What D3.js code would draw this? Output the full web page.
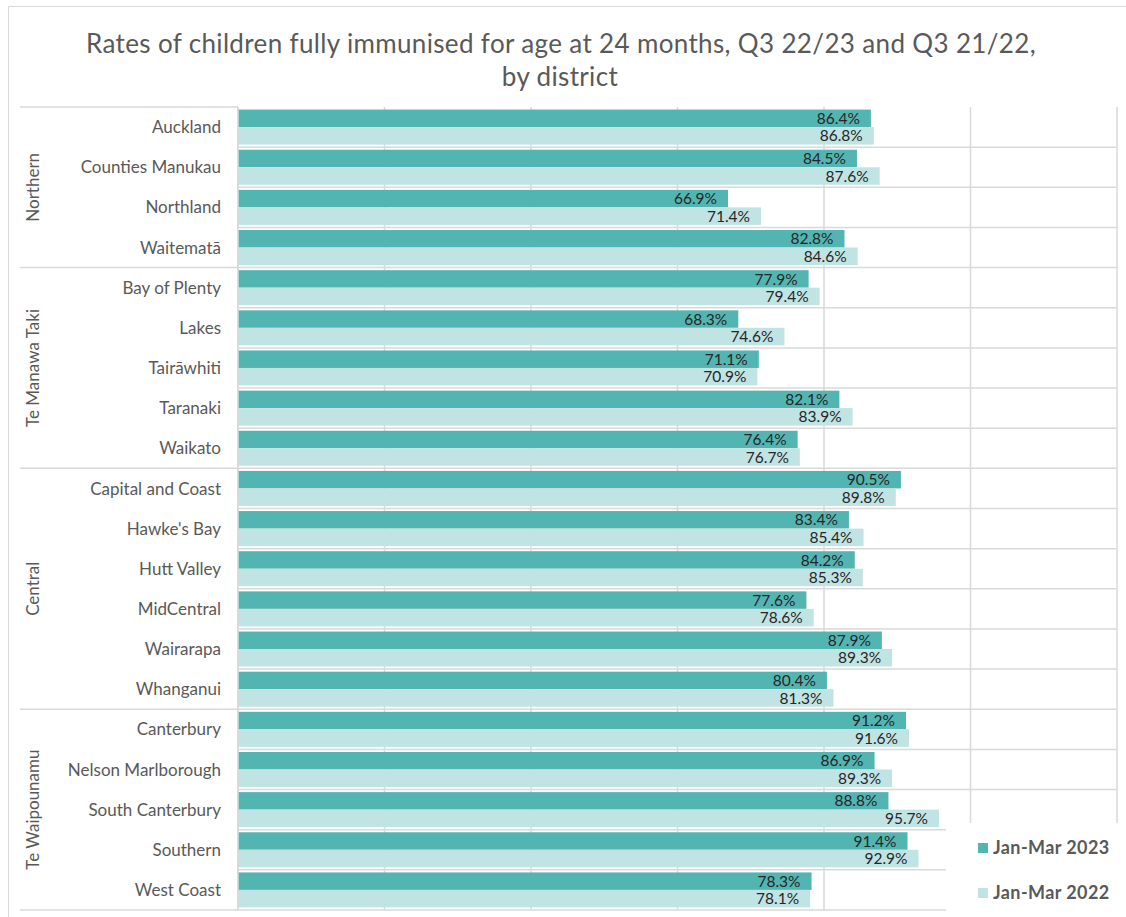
<!DOCTYPE html>
<meta charset="utf-8">
<style>
body { margin: 0; background: #fff; }
text { font-family: Lato, "Open Sans", sans-serif; }
.title { font-size: 26px; fill: #595959; letter-spacing: 0.35px; }
.cat text { font-size: 17px; fill: #595959; }
.grp text { font-size: 17px; fill: #595959; }
.val { font-size: 15.5px; fill: #262626; }
.legend text { font-size: 18px; font-weight: bold; fill: #595959; letter-spacing: 0.4px; }
</style>
<script src="https://d3js.org/d3.v7.min.js"></script>
<svg width="1126" height="917"></svg>
<script>

var districts = ["Auckland", "Counties Manukau", "Northland", "Waitematā",
  "Bay of Plenty", "Lakes", "Tairāwhiti", "Taranaki", "Waikato",
  "Capital and Coast", "Hawke's Bay", "Hutt Valley", "MidCentral", "Wairarapa", "Whanganui",
  "Canterbury", "Nelson Marlborough", "South Canterbury", "Southern", "West Coast"];
var rate2023 = [86.4, 84.5, 66.9, 82.8, 77.9, 68.3, 71.1, 82.1, 76.4, 90.5, 83.4, 84.2, 77.6, 87.9, 80.4, 91.2, 86.9, 88.8, 91.4, 78.3];
var rate2022 = [86.8, 87.6, 71.4, 84.6, 79.4, 74.6, 70.9, 83.9, 76.7, 89.8, 85.4, 85.3, 78.6, 89.3, 81.3, 91.6, 89.3, 95.7, 92.9, 78.1];
var groups = ["Northern", "Te Manawa Taki", "Central", "Te Waipounamu"];
var groupSizes = [4, 5, 6, 5];
var seriesNames = ["Jan-Mar 2023", "Jan-Mar 2022"];
var colors = ["#53b5b2", "#c0e4e3"];
var xTicks = [0, 20, 40, 60, 80, 100, 120];

var svg = d3.select("svg");
var plotLeft = 238, plotRight = 1117, plotTop = 107, plotBottom = 910;

// frame
svg.append("path").attr("d", "M8.5,917V6.5H1126").attr("fill", "none").attr("stroke", "#d9d9d9");

svg.append("text").attr("class", "title").attr("text-anchor", "middle")
  .attr("x", 561).attr("y", 53).text("Rates of children fully immunised  for age at 24 months, Q3 22/23 and Q3 21/22,");
svg.append("text").attr("class", "title").attr("text-anchor", "middle")
  .attr("x", 560).attr("y", 86).text("by district");

var x = d3.scaleLinear().domain([0, 120]).range([plotLeft, plotRight]);
var y = d3.scaleBand().domain(districts).range([plotTop, plotBottom]);
var inner = d3.scaleBand().domain([0, 1]).range([0, y.bandwidth()]).paddingOuter(0.147);

// vertical gridlines
svg.append("g").selectAll("line").data(xTicks).join("line")
  .attr("x1", d => x(d)).attr("x2", d => x(d))
  .attr("y1", plotTop).attr("y2", plotBottom)
  .attr("stroke", "#d9d9d9").attr("stroke-width", 1.5);

// row separators
svg.append("g").selectAll("line").data(districts).join("line")
  .attr("x1", plotLeft).attr("x2", plotRight)
  .attr("y1", d => y(d) + y.bandwidth()).attr("y2", d => y(d) + y.bandwidth())
  .attr("stroke", "#d9d9d9").attr("stroke-width", 1.5);

var series = [rate2023, rate2022];
series.forEach(function(vals, s) {
  svg.append("g").selectAll("rect").data(vals).join("rect")
    .attr("x", x(0))
    .attr("y", (d, i) => y(districts[i]) + inner(s))
    .attr("width", d => x(d) - x(0))
    .attr("height", inner.bandwidth())
    .attr("fill", colors[s]);
  svg.append("g").selectAll("text").data(vals).join("text")
    .attr("class", "val")
    .attr("text-anchor", "end")
    .attr("x", d => x(d) - 11)
    .attr("y", (d, i) => y(districts[i]) + inner(s) + inner.bandwidth() / 2)
    .attr("dy", "0.36em")
    .text(d => d.toFixed(1) + "%");
});

// category labels
var cat = svg.append("g").attr("class", "cat");
cat.selectAll("text").data(districts).join("text")
  .attr("text-anchor", "end")
  .attr("x", plotLeft - 17)
  .attr("y", d => y(d) + y.bandwidth() / 2)
  .attr("dy", "0.36em")
  .text(d => d);

// group labels and separators
var starts = [0];
groupSizes.forEach(function(n, i) { starts.push(starts[i] + n); });
var edge = i => i < districts.length ? y(districts[i]) : plotBottom;
var grp = svg.append("g").attr("class", "grp");
grp.selectAll("line").data(starts).join("line")
  .attr("x1", 20).attr("x2", plotLeft)
  .attr("y1", d => edge(d)).attr("y2", d => edge(d))
  .attr("stroke", "#d9d9d9").attr("stroke-width", 1.5);
grp.selectAll("text").data(groups).join("text")
  .attr("text-anchor", "middle")
  .attr("transform", (d, i) => "translate(39," + (edge(starts[i]) + edge(starts[i + 1])) / 2 + ") rotate(-90)")
  .text(d => d);
svg.append("line").attr("x1", plotLeft).attr("x2", plotLeft).attr("y1", plotTop).attr("y2", plotBottom)
  .attr("stroke", "#d9d9d9").attr("stroke-width", 1.5);

// legend
var lg = svg.append("g").attr("class", "legend");
lg.append("rect").attr("x", 946).attr("y", 823).attr("width", 180).attr("height", 94).attr("fill", "#fff");
seriesNames.forEach(function(n, i) {
  lg.append("rect").attr("x", 978).attr("y", 843 + i * 45).attr("width", 10).attr("height", 10).attr("fill", colors[i]);
  lg.append("text").attr("x", 993).attr("y", 848 + i * 45).attr("dy", "0.36em").text(n);
});

</script>
